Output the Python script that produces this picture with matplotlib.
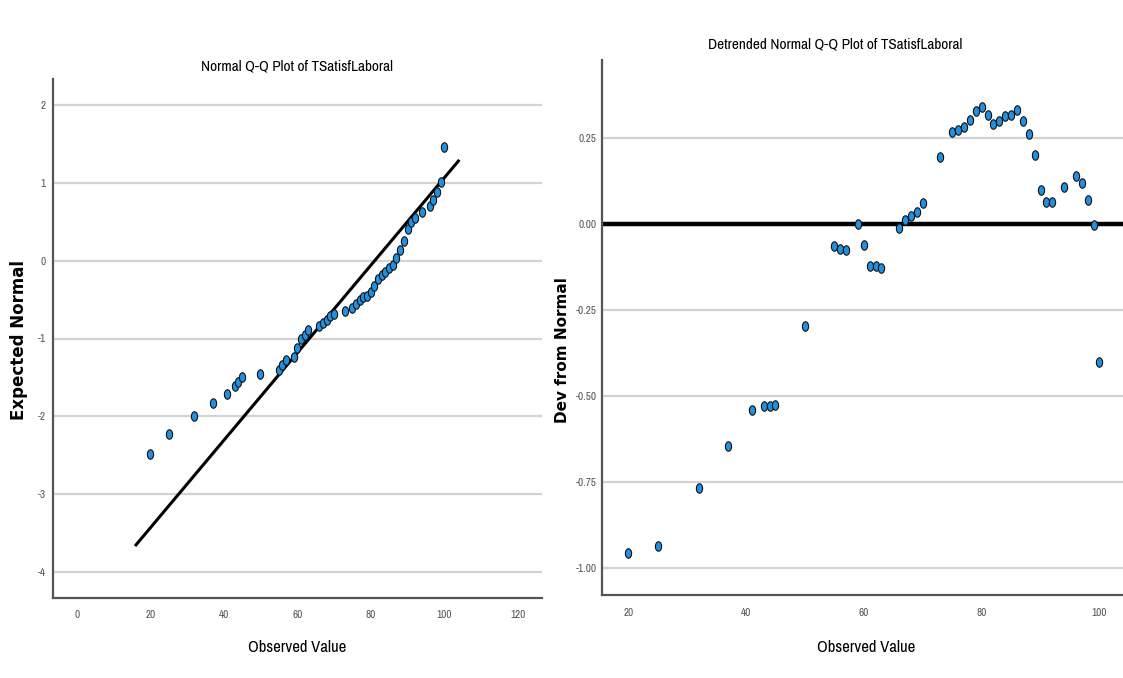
import numpy as np
import matplotlib
matplotlib.use("Agg")
import matplotlib.pyplot as plt
from matplotlib.ticker import FormatStrFormatter

plt.rcParams["axes.unicode_minus"] = False

# ---------------- data ----------------
observed = [20, 25, 32, 37, 41, 43, 44, 45, 50, 55, 56, 57, 59, 60, 61, 62, 63,
            66, 67, 68, 69, 70, 73, 75, 76, 77, 78, 79, 80, 81, 82, 83, 84, 85,
            86, 87, 88, 89, 90, 91, 92, 94, 96, 97, 98, 99, 100]
expected_normal = [-2.48, -2.22, -1.99, -1.83, -1.71, -1.61, -1.56, -1.50, -1.45,
                   -1.40, -1.34, -1.28, -1.24, -1.12, -1.01, -0.95, -0.89,
                   -0.84, -0.80, -0.76, -0.71, -0.68, -0.65, -0.61, -0.56, -0.51,
                   -0.47, -0.45, -0.40, -0.32, -0.24, -0.19, -0.15, -0.10,
                   -0.06, 0.03, 0.13, 0.25, 0.40, 0.49, 0.55, 0.62, 0.70, 0.78,
                   0.88, 1.01, 1.46]
dev_from_normal = [-0.956, -0.934, -0.768, -0.644, -0.540, -0.529, -0.529, -0.527,
                   -0.298, -0.065, -0.072, -0.076, 0.0, -0.063, -0.124, -0.122,
                   -0.129, -0.012, 0.012, 0.022, 0.034, 0.059, 0.195, 0.266,
                   0.273, 0.280, 0.300, 0.327, 0.338, 0.314, 0.290, 0.298, 0.313,
                   0.316, 0.330, 0.297, 0.261, 0.198, 0.099, 0.063, 0.063, 0.108,
                   0.138, 0.117, 0.068, -0.005, -0.400]
sample_mean = 81.1
sample_sd = 17.8
ref_line_range = [15.9, 104.1]

left_xticks = [0, 20, 40, 60, 80, 100, 120]
left_yticks = [-4, -3, -2, -1, 0, 1, 2]
right_xticks = [20, 40, 60, 80, 100]
right_yticks = [-1.00, -0.75, -0.50, -0.25, 0.00, 0.25]

# ---------------- style ----------------
W, H = 1123, 678
fig = plt.figure(figsize=(W / 100, H / 100), dpi=100)
fig.patch.set_facecolor("white")

narrow = ["Archivo Narrow", "Roboto", "DejaVu Sans"]
tick_color = "#555555"
grid_color = "#d3d3d3"
spine_color = "#555555"
marker_face = "#2190e0"

t = np.linspace(0, 2 * np.pi, 40)
ellipse_marker = np.column_stack([0.66 * np.cos(t), np.sin(t)])


def px_axes(left, top, right, bottom):
    return fig.add_axes([left / W, 1 - bottom / H, (right - left) / W, (bottom - top) / H])


def style(ax, ypad):
    for s in ("top", "right"):
        ax.spines[s].set_visible(False)
    for s in ("left", "bottom"):
        ax.spines[s].set_color(spine_color)
        ax.spines[s].set_linewidth(1.6)
    ax.grid(axis="y", color=grid_color, linewidth=1.6)
    ax.set_axisbelow(True)
    ax.tick_params(axis="x", length=0, colors=tick_color, labelsize=8, pad=9)
    ax.tick_params(axis="y", length=0, colors=tick_color, labelsize=8, pad=ypad)
    for lab in ax.get_xticklabels() + ax.get_yticklabels():
        lab.set_family(narrow)


# ---------------- left: Normal Q-Q ----------------
ax1 = px_axes(52.7, 79, 541.7, 598)
ax1.set_xlim(-6.5, 126.5)
ax1.set_ylim(-4.33, 2.33)
ax1.set_xticks(left_xticks)
ax1.set_yticks(left_yticks)
rx = np.array(ref_line_range)
ax1.plot(rx, (rx - sample_mean) / sample_sd, color="black", linewidth=2.2, zorder=2,
         solid_capstyle="butt")
ax1.plot(observed, expected_normal, linestyle="none", marker=ellipse_marker,
         markersize=6.8, markerfacecolor=marker_face, markeredgecolor="#111111",
         markeredgewidth=0.8, zorder=3)
style(ax1, 5)
ax1.set_xlabel("Observed Value", family=narrow, fontsize=12)
ax1.xaxis.set_label_coords(0.5, (598 - 640) / 519)
ax1.set_ylabel("Expected Normal", family="DejaVu Sans", fontweight="bold", fontsize=12)
ax1.yaxis.set_label_coords((28 - 52.7) / 489, (598 - 340) / 519)
fig.text(297 / W, 1 - 67 / H, "Normal Q-Q Plot of TSatisfLaboral", family=narrow,
         fontsize=11, ha="center", va="center")

# ---------------- right: Detrended Normal Q-Q ----------------
ax2 = px_axes(602.3, 60, 1123, 595)
ax2.set_xlim(15.6, 104.0)
ax2.set_ylim(-1.077, 0.475)
ax2.set_xticks(right_xticks)
ax2.set_yticks(right_yticks)
ax2.yaxis.set_major_formatter(FormatStrFormatter("%.2f"))
ax2.axhline(0, color="black", linewidth=3.2, zorder=2)
ax2.plot(observed, dev_from_normal, linestyle="none", marker=ellipse_marker,
         markersize=6.8, markerfacecolor=marker_face, markeredgecolor="#111111",
         markeredgewidth=0.8, zorder=3)
style(ax2, 4)
ax2.set_xlabel("Observed Value", family=narrow, fontsize=12)
ax2.xaxis.set_label_coords((866 - 602.3) / 520.7, (595 - 640) / 535)
ax2.set_ylabel("Dev from Normal", family="DejaVu Sans", fontweight="bold", fontsize=11)
ax2.yaxis.set_label_coords((570 - 602.3) / 520.7, (595 - 350) / 535)
fig.text(835 / W, 1 - 45 / H, "Detrended Normal Q-Q Plot of TSatisfLaboral",
         family=narrow, fontsize=11, ha="center", va="center")

fig.savefig("out.png", dpi=100, facecolor="white")
